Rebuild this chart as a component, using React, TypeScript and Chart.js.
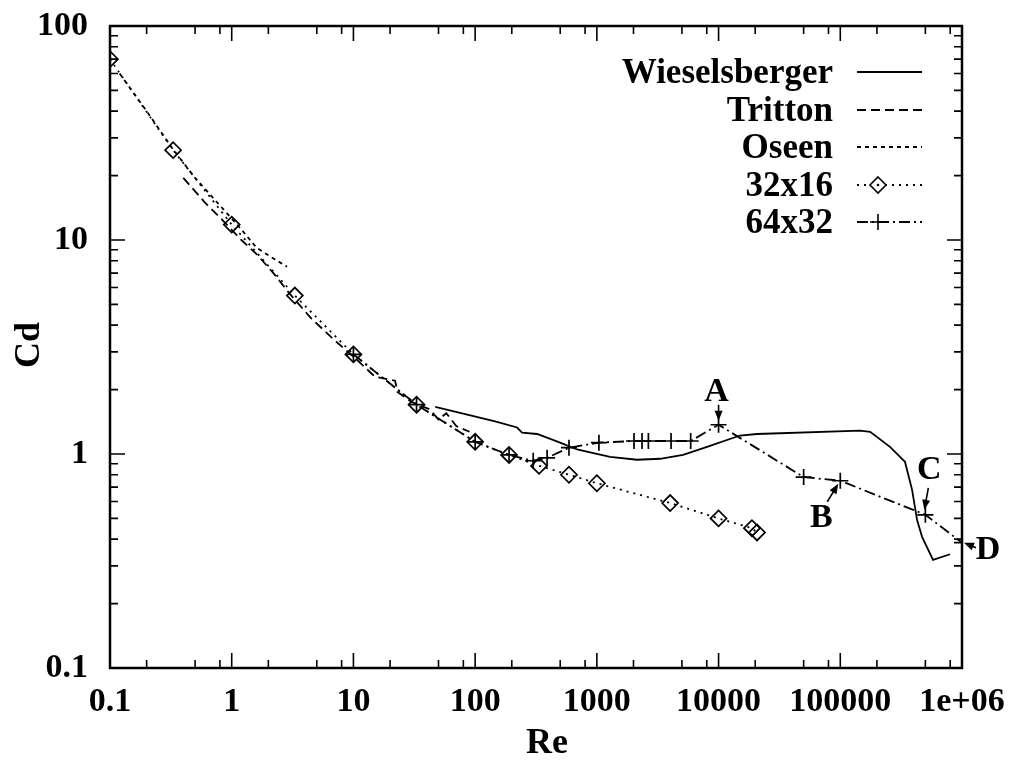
import React, { useEffect, useRef } from 'react';
import { Chart, registerables } from 'chart.js';

Chart.register(...registerables);

const FONT = "'Liberation Serif', 'Times New Roman', serif";

// ---- axis ticks ----
const xTickValues = [0.1, 1, 10, 100, 1000, 10000, 100000, 1000000];
const xTickLabels = ['0.1', '1', '10', '100', '1000', '10000', '100000', '1e+06'];
const yTickValues = [0.1, 1, 10, 100];
const yTickLabels = ['0.1', '1', '10', '100'];
const xMinorMultipliers = [2, 5, 8];
const yMinorMultipliers = [2, 3, 4, 5, 6, 7, 8, 9];

// ---- series ----
const seriesNames = ['Wieselsberger', 'Tritton', 'Oseen', '32x16', '64x32'];

const wiesRe = [47, 146, 221, 243, 323, 499, 687, 1283, 2140, 3305, 5110, 8040, 15000, 20700, 145500, 176000, 256000, 340000, 389000, 428000, 470000, 578000, 798000];
const wiesCd = [1.66, 1.42, 1.33, 1.26, 1.24, 1.13, 1.05, 0.97, 0.94, 0.95, 0.99, 1.08, 1.22, 1.24, 1.285, 1.27, 1.08, 0.92, 0.68, 0.49, 0.41, 0.32, 0.34];

const tritRe = [0.4, 0.6, 0.85, 1.2, 1.6, 2.2, 3.0, 4.5, 7, 10, 15, 22, 23, 30, 42, 50, 58, 70, 90];
const tritCd = [19.5, 15.0, 12.3, 10.0, 8.6, 7.0, 5.6, 4.3, 3.4, 2.85, 2.3, 2.2, 1.95, 1.75, 1.62, 1.45, 1.55, 1.35, 1.27];

const oseenRe = [0.12, 0.2, 0.33, 0.5, 0.8, 1.2, 1.6, 2.2, 2.85];
const oseenCd = [60, 40, 26.5, 19.5, 14.5, 11.2, 9.2, 8.2, 7.5];

const g32Re = [0.1, 0.33, 1, 3.3, 10, 33, 100, 190, 335, 590, 1000, 4000, 10000, 18800, 20700];
const g32Cd = [70, 26.3, 11.8, 5.5, 2.92, 1.7, 1.14, 0.99, 0.88, 0.8, 0.73, 0.59, 0.5, 0.45, 0.43];

const g64Re = [10, 33, 100, 190, 300, 390, 590, 1040, 2020, 2350, 2650, 4070, 5900, 10000, 50000, 100000, 500000, 1000000];
const g64Cd = [2.92, 1.7, 1.14, 0.99, 0.93, 0.96, 1.07, 1.13, 1.15, 1.15, 1.15, 1.15, 1.15, 1.37, 0.78, 0.75, 0.52, 0.385];

// ---- annotations (label, Re, Cd of the pointed point) ----
const annLabels = ['A', 'B', 'C', 'D'];
const annRe = [10000, 100000, 500000, 1000000];
const annCd = [1.37, 0.75, 0.52, 0.385];

const toPts = (xs: number[], ys: number[]) => xs.map((x, i) => ({ x, y: ys[i] }));

function drawArrow(ctx: CanvasRenderingContext2D, x1: number, y1: number, x2: number, y2: number) {
  const ang = Math.atan2(y2 - y1, x2 - x1);
  const hl = 10, hw = 4;
  ctx.save();
  ctx.strokeStyle = '#000';
  ctx.fillStyle = '#000';
  ctx.lineWidth = 1.6;
  ctx.setLineDash([]);
  ctx.beginPath();
  ctx.moveTo(x1, y1);
  ctx.lineTo(x2 - Math.cos(ang) * hl * 0.8, y2 - Math.sin(ang) * hl * 0.8);
  ctx.stroke();
  ctx.beginPath();
  ctx.moveTo(x2, y2);
  ctx.lineTo(x2 - Math.cos(ang) * hl - Math.sin(ang) * hw, y2 - Math.sin(ang) * hl + Math.cos(ang) * hw);
  ctx.lineTo(x2 - Math.cos(ang) * hl + Math.sin(ang) * hw, y2 - Math.sin(ang) * hl - Math.cos(ang) * hw);
  ctx.closePath();
  ctx.fill();
  ctx.restore();
}

const annOffsets: Record<string, { tx: number; ty: number; ax1: number; ay1: number; ax2: number; ay2: number }> = {
  A: { tx: -2, ty: -33, ax1: 0, ay1: -20, ax2: 0, ay2: -4 },
  B: { tx: -19, ty: 37, ax1: -13, ay1: 21, ax2: -2, ay2: 3 },
  C: { tx: 4, ty: -45, ax1: 3, ay1: -27, ax2: -1, ay2: -5 },
  D: { tx: 26, ty: 8, ax1: 14, ay1: 5, ax2: 2, ay2: 0 },
};

const framePlugin = {
  id: 'framePlugin',
  beforeDraw(chart: any) {
    const ctx = chart.ctx;
    ctx.save();
    ctx.fillStyle = '#fff';
    ctx.fillRect(0, 0, chart.width, chart.height);
    ctx.restore();
  },
  afterDraw(chart: any) {
    const ctx: CanvasRenderingContext2D = chart.ctx;
    const { left, right, top, bottom } = chart.chartArea;
    const xs = chart.scales.x;
    const ys = chart.scales.y;
    ctx.save();
    ctx.strokeStyle = '#000';
    ctx.setLineDash([]);
    // ticks
    ctx.lineWidth = 1.6;
    const majorLen = 15, minorLen = 8;
    const xTick = (v: number, len: number) => {
      const p = xs.getPixelForValue(v);
      ctx.beginPath();
      ctx.moveTo(p, bottom); ctx.lineTo(p, bottom - len);
      ctx.moveTo(p, top); ctx.lineTo(p, top + len);
      ctx.stroke();
    };
    const yTick = (v: number, len: number) => {
      const p = ys.getPixelForValue(v);
      ctx.beginPath();
      ctx.moveTo(left, p); ctx.lineTo(left + len, p);
      ctx.moveTo(right, p); ctx.lineTo(right - len, p);
      ctx.stroke();
    };
    xTickValues.forEach((v, i) => {
      xTick(v, majorLen);
      if (i < xTickValues.length - 1) xMinorMultipliers.forEach((m) => xTick(v * m, minorLen));
    });
    yTickValues.forEach((v, i) => {
      yTick(v, majorLen);
      if (i < yTickValues.length - 1) yMinorMultipliers.forEach((m) => yTick(v * m, minorLen));
    });
    // frame
    ctx.lineWidth = 2.5;
    ctx.strokeRect(left, top, right - left, bottom - top);

    // axis titles
    ctx.fillStyle = '#000';
    ctx.font = `bold 36px ${FONT}`;
    ctx.textAlign = 'center';
    ctx.textBaseline = 'middle';
    ctx.fillText('Re', (left + right) / 2 + 11, 744);
    ctx.save();
    ctx.translate(30, 345);
    ctx.rotate(-Math.PI / 2);
    ctx.fillText('Cd', 0, 0);
    ctx.restore();

    // legend
    const rowY = [72, 110, 147, 185, 222];
    const textRight = 833, sx1 = 857, sx2 = 922, mx = 878;
    ctx.font = `bold 35px ${FONT}`;
    ctx.textAlign = 'right';
    chart.data.datasets.forEach((ds: any, i: number) => {
      const y = rowY[i];
      ctx.fillStyle = '#000';
      ctx.fillText(ds.label, textRight, y + 2);
      ctx.save();
      ctx.strokeStyle = '#000';
      ctx.lineWidth = ds.borderWidth;
      ctx.setLineDash(ds.borderDash || []);
      ctx.beginPath();
      ctx.moveTo(sx1, y); ctx.lineTo(sx2, y);
      ctx.stroke();
      ctx.setLineDash([]);
      ctx.lineWidth = 1.6;
      if (ds.pointStyle === 'rectRot') {
        const r = ds.pointRadius;
        ctx.fillStyle = '#fff';
        ctx.beginPath();
        ctx.moveTo(mx, y - r); ctx.lineTo(mx + r, y); ctx.lineTo(mx, y + r); ctx.lineTo(mx - r, y);
        ctx.closePath();
        ctx.fill();
        ctx.stroke();
        ctx.fillStyle = '#000';
        ctx.beginPath(); ctx.arc(mx, y, 1.3, 0, Math.PI * 2); ctx.fill();
      } else if (ds.pointStyle === 'cross') {
        const r = ds.pointRadius;
        ctx.beginPath();
        ctx.moveTo(mx - r, y); ctx.lineTo(mx + r, y);
        ctx.moveTo(mx, y - r); ctx.lineTo(mx, y + r);
        ctx.stroke();
      }
      ctx.restore();
    });

    // annotations
    ctx.font = `bold 34px ${FONT}`;
    ctx.textAlign = 'center';
    ctx.textBaseline = 'middle';
    annLabels.forEach((lab, i) => {
      const px = xs.getPixelForValue(annRe[i]);
      const py = ys.getPixelForValue(annCd[i]);
      const o = annOffsets[lab];
      ctx.fillStyle = '#000';
      ctx.fillText(lab, px + o.tx, py + o.ty);
      drawArrow(ctx, px + o.ax1, py + o.ay1, px + o.ax2, py + o.ay2);
    });
    ctx.restore();
  },
};

export default function App() {
  const canvasRef = useRef<HTMLCanvasElement | null>(null);

  useEffect(() => {
    if (!canvasRef.current) return;
    const common = { fill: false, tension: 0, borderColor: '#000', backgroundColor: '#000' };
    const chart = new Chart(canvasRef.current, {
      type: 'line',
      data: {
        datasets: [
          { ...common, label: seriesNames[0], data: toPts(wiesRe, wiesCd), borderWidth: 1.8, borderDash: [], pointRadius: 0 },
          { ...common, label: seriesNames[1], data: toPts(tritRe, tritCd), borderWidth: 1.8, borderDash: [9, 5], pointRadius: 0 },
          { ...common, label: seriesNames[2], data: toPts(oseenRe, oseenCd), borderWidth: 1.8, borderDash: [4, 4], pointRadius: 0 },
          {
            ...common, label: seriesNames[3], data: toPts(g32Re, g32Cd), borderWidth: 1.8, borderDash: [2, 5],
            pointStyle: 'rectRot', pointRadius: 8, pointBorderWidth: 1.7, pointBackgroundColor: 'rgba(255,255,255,0)', pointBorderColor: '#000',
          },
          {
            ...common, label: seriesNames[4], data: toPts(g64Re, g64Cd), borderWidth: 1.8, borderDash: [11, 4, 2, 4],
            pointStyle: 'cross', pointRadius: 8, pointBorderWidth: 1.7, pointBorderColor: '#000',
          },
        ] as any,
      },
      options: {
        responsive: false,
        animation: false,
        devicePixelRatio: 1,
        layout: { padding: { top: 26, right: 52, left: 0, bottom: 0 } },
        plugins: { legend: { display: false }, tooltip: { enabled: false }, title: { display: false } },
        scales: {
          x: {
            type: 'logarithmic',
            min: 0.1,
            max: 1000000,
            grid: { display: false, drawTicks: false },
            border: { display: false },
            afterBuildTicks: (scale: any) => { scale.ticks = xTickValues.map((v) => ({ value: v })); },
            afterFit: (scale: any) => {
              scale.height = 92;
              scale.paddingLeft = 0; scale.paddingRight = 0; scale.paddingTop = 0; scale.paddingBottom = 0;
            },
            ticks: {
              autoSkip: false,
              maxRotation: 0,
              minRotation: 0,
              padding: 14,
              color: '#000',
              font: { family: FONT, size: 34, weight: 'bold' },
              callback: (v: any) => { const i = xTickValues.indexOf(Number(v)); return i >= 0 ? xTickLabels[i] : ''; },
            },
          },
          y: {
            type: 'logarithmic',
            min: 0.1,
            max: 100,
            grid: { display: false, drawTicks: false },
            border: { display: false },
            afterBuildTicks: (scale: any) => { scale.ticks = yTickValues.map((v) => ({ value: v })); },
            afterFit: (scale: any) => {
              scale.width = 110;
              scale.paddingLeft = 0; scale.paddingRight = 0; scale.paddingTop = 0; scale.paddingBottom = 0;
            },
            ticks: {
              autoSkip: false,
              padding: 22,
              color: '#000',
              font: { family: FONT, size: 34, weight: 'bold' },
              callback: (v: any) => { const i = yTickValues.indexOf(Number(v)); return i >= 0 ? yTickLabels[i] : ''; },
            },
          },
        },
      } as any,
      plugins: [framePlugin],
    });
    return () => chart.destroy();
  }, []);

  return (
    <div style={{ position: 'absolute', left: 0, top: 0, width: 1014, height: 760, background: '#fff' }}>
      <canvas ref={canvasRef} width={1014} height={760} style={{ display: 'block' }} />
    </div>
  );
}
